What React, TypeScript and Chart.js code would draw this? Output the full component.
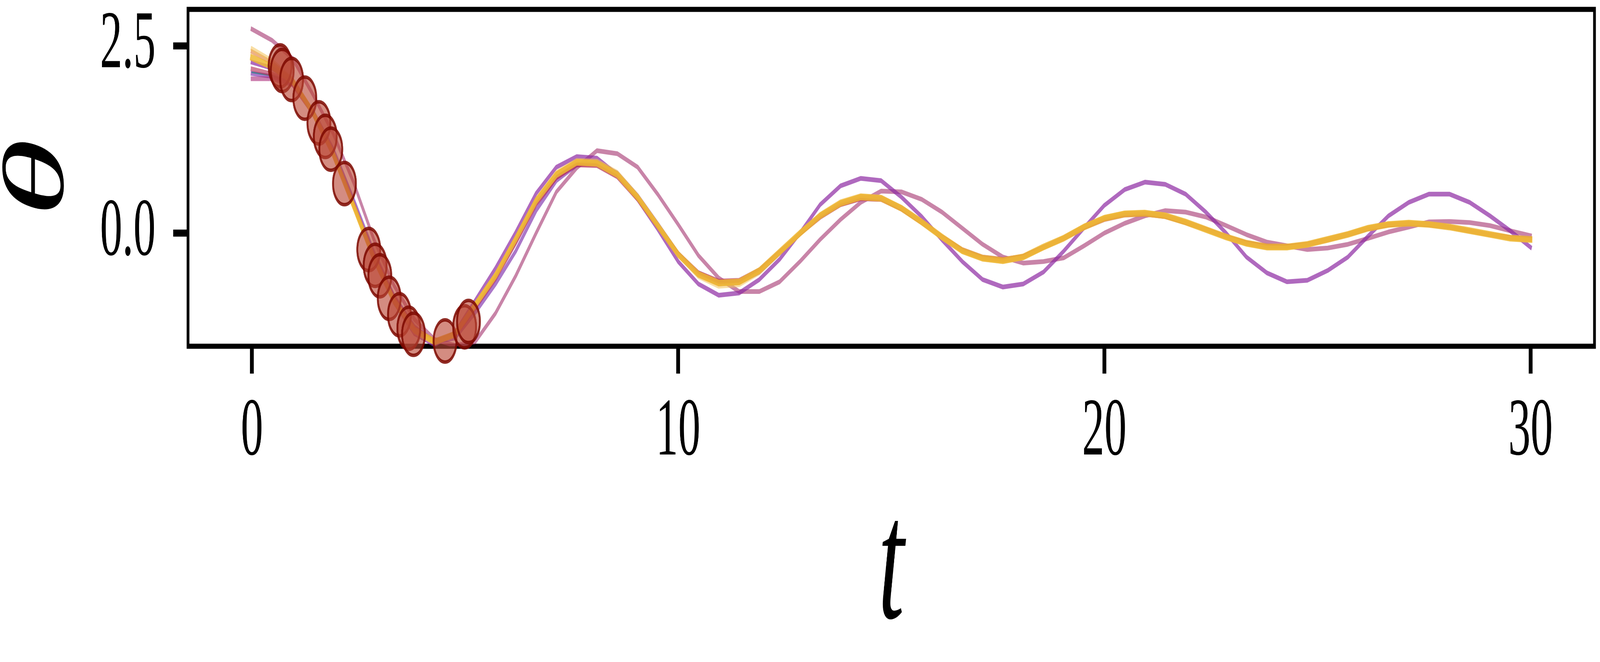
import { useEffect, useRef } from 'react';
import { Chart, registerables } from 'chart.js';

Chart.register(...registerables);

// time grid of the simulated trajectories (64 samples over 0..30)
const times = [
  0, 0.476, 0.952, 1.429, 1.905, 2.381, 2.857, 3.333, 3.81, 4.286, 4.762, 5.238, 5.714, 6.19, 6.667, 7.143,
  7.619, 8.095, 8.571, 9.048, 9.524, 10, 10.476, 10.952, 11.429, 11.905, 12.381, 12.857, 13.333, 13.81, 14.286, 14.762,
  15.238, 15.714, 16.19, 16.667, 17.143, 17.619, 18.095, 18.571, 19.048, 19.524, 20, 20.476, 20.952, 21.429, 21.905, 22.381,
  22.857, 23.333, 23.81, 24.286, 24.762, 25.238, 25.714, 26.19, 26.667, 27.143, 27.619, 28.095, 28.571, 29.048, 29.524, 30,
];

// ensemble members (theta)
const thetaYellow = [
  2.34, 2.22, 2.03, 1.61, 1.06, 0.37, -0.33, -0.9, -1.29, -1.45, -1.35, -0.96, -0.57, -0.08, 0.43, 0.78,
  0.945, 0.93, 0.78, 0.475, 0.098, -0.284, -0.551, -0.667, -0.651, -0.501, -0.251, -0.002, 0.231, 0.398, 0.481, 0.464,
  0.331, 0.148, -0.052, -0.235, -0.334, -0.368, -0.318, -0.185, -0.068, 0.081, 0.198, 0.255, 0.265, 0.231, 0.148, 0.048,
  -0.052, -0.135, -0.185, -0.185, -0.151, -0.085, -0.018, 0.065, 0.115, 0.132, 0.115, 0.081, 0.032, -0.018, -0.068, -0.085,
];
const thetaPale = [
  2.46, 2.3, 2.05, 1.62, 1.04, 0.35, -0.35, -0.93, -1.32, -1.47, -1.36, -0.95, -0.55, -0.06, 0.45, 0.81,
  0.97, 0.96, 0.81, 0.5, 0.11, -0.29, -0.58, -0.71, -0.69, -0.53, -0.27, 0, 0.25, 0.42, 0.5, 0.48,
  0.34, 0.15, -0.06, -0.25, -0.35, -0.38, -0.33, -0.2, -0.07, 0.09, 0.21, 0.27, 0.28, 0.24, 0.15, 0.04,
  -0.06, -0.15, -0.2, -0.2, -0.16, -0.09, -0.02, 0.07, 0.12, 0.14, 0.12, 0.08, 0.03, -0.02, -0.07, -0.09,
];
const thetaOrange = [
  2.42, 2.27, 2.04, 1.62, 1.05, 0.36, -0.34, -0.91, -1.3, -1.45, -1.34, -0.95, -0.56, -0.07, 0.44, 0.79,
  0.95, 0.94, 0.79, 0.48, 0.1, -0.29, -0.56, -0.68, -0.66, -0.51, -0.26, 0, 0.24, 0.4, 0.49, 0.47,
  0.34, 0.15, -0.05, -0.24, -0.34, -0.37, -0.32, -0.19, -0.06, 0.09, 0.2, 0.26, 0.27, 0.23, 0.15, 0.05,
  -0.05, -0.14, -0.19, -0.19, -0.15, -0.08, -0.01, 0.07, 0.12, 0.13, 0.12, 0.08, 0.03, -0.02, -0.07, -0.09,
];
const thetaRed = [
  2.19, 2.12, 2.0, 1.6, 1.07, 0.39, -0.3, -0.87, -1.27, -1.44, -1.36, -0.99, -0.6, -0.12, 0.39, 0.74,
  0.91, 0.9, 0.75, 0.45, 0.08, -0.28, -0.53, -0.64, -0.63, -0.49, -0.25, -0.01, 0.21, 0.38, 0.46, 0.45,
  0.32, 0.14, -0.05, -0.22, -0.32, -0.35, -0.31, -0.19, -0.07, 0.07, 0.18, 0.24, 0.25, 0.22, 0.14, 0.05,
  -0.05, -0.13, -0.17, -0.18, -0.15, -0.09, -0.02, 0.06, 0.11, 0.13, 0.11, 0.08, 0.03, -0.02, -0.06, -0.08,
];
const thetaMagenta = [
  2.06, 2.06, 1.98, 1.6, 1.08, 0.4, -0.29, -0.86, -1.27, -1.44, -1.37, -1.0, -0.61, -0.13, 0.38, 0.74,
  0.92, 0.91, 0.76, 0.46, 0.09, -0.27, -0.53, -0.65, -0.64, -0.5, -0.26, -0.01, 0.22, 0.38, 0.46, 0.45,
  0.32, 0.14, -0.05, -0.23, -0.33, -0.36, -0.31, -0.19, -0.07, 0.08, 0.19, 0.25, 0.26, 0.22, 0.14, 0.05,
  -0.05, -0.13, -0.18, -0.18, -0.15, -0.09, -0.02, 0.06, 0.11, 0.13, 0.11, 0.08, 0.03, -0.02, -0.06, -0.08,
];
const thetaTeal = [
  2.145, 2.1, 2.0, 1.61, 1.07, 0.38, -0.31, -0.88, -1.28, -1.45, -1.36, -0.98, -0.58, -0.1, 0.41, 0.76,
  0.93, 0.92, 0.77, 0.47, 0.09, -0.28, -0.54, -0.66, -0.65, -0.5, -0.25, 0, 0.23, 0.39, 0.47, 0.46,
  0.33, 0.15, -0.05, -0.23, -0.33, -0.37, -0.32, -0.19, -0.07, 0.08, 0.19, 0.25, 0.26, 0.23, 0.15, 0.05,
  -0.05, -0.13, -0.18, -0.18, -0.15, -0.09, -0.02, 0.06, 0.11, 0.13, 0.12, 0.08, 0.03, -0.02, -0.07, -0.08,
];
const thetaDarkPurple = [
  2.13, 2.09, 1.99, 1.63, 1.12, 0.45, -0.25, -0.84, -1.25, -1.45, -1.4, -1.06, -0.68, -0.24, 0.3, 0.7,
  0.91, 0.94, 0.8, 0.5, 0.12, -0.27, -0.55, -0.67, -0.66, -0.52, -0.27, -0.01, 0.23, 0.4, 0.48, 0.47,
  0.34, 0.15, -0.05, -0.23, -0.33, -0.36, -0.32, -0.19, -0.07, 0.08, 0.19, 0.25, 0.26, 0.23, 0.15, 0.05,
  -0.05, -0.13, -0.18, -0.18, -0.15, -0.09, -0.02, 0.06, 0.11, 0.13, 0.12, 0.08, 0.03, -0.02, -0.06, -0.08,
];
const thetaPurple = [
  2.28, 2.2, 2.02, 1.62, 1.08, 0.4, -0.32, -0.92, -1.34, -1.49, -1.33, -0.9, -0.47, 0.01, 0.53, 0.88,
  1.02, 1.0, 0.78, 0.45, 0.05, -0.38, -0.68, -0.83, -0.8, -0.62, -0.35, 0, 0.38, 0.63, 0.73, 0.7,
  0.48, 0.22, -0.09, -0.38, -0.62, -0.72, -0.68, -0.52, -0.24, 0.07, 0.37, 0.58, 0.68, 0.65, 0.52, 0.28,
  0, -0.32, -0.53, -0.65, -0.63, -0.5, -0.32, -0.04, 0.23, 0.41, 0.52, 0.52, 0.41, 0.23, 0.03, -0.19,
];
const thetaPink = [
  2.72, 2.57, 2.33, 1.85, 1.33, 0.68, -0.08, -0.7, -1.15, -1.42, -1.5, -1.45, -1.07, -0.57, 0, 0.55,
  0.87, 1.1, 1.06, 0.88, 0.515, 0.115, -0.3, -0.6, -0.78, -0.78, -0.65, -0.38, -0.085, 0.18, 0.41, 0.56,
  0.55, 0.45, 0.28, 0.065, -0.15, -0.32, -0.4, -0.38, -0.33, -0.17, 0, 0.13, 0.23, 0.3, 0.28, 0.215,
  0.1, -0.02, -0.12, -0.17, -0.22, -0.2, -0.15, -0.07, 0.015, 0.08, 0.15, 0.155, 0.14, 0.1, 0.03, -0.035,
];

// observations
const obsT = [0.66, 0.71, 0.93, 1.24, 1.57, 1.72, 1.85, 2.17, 2.74, 2.89, 3.0, 3.22, 3.46, 3.68, 3.79, 4.53, 4.99, 5.08];
const obsTheta = [2.23, 2.17, 2.05, 1.8, 1.47, 1.29, 1.12, 0.66, -0.22, -0.43, -0.57, -0.87, -1.09, -1.27, -1.35, -1.44, -1.25, -1.18];

const xTicks = [0, 10, 20, 30];
const yTicks = [0, 2.5];

const W = 7556;
const H = 1694;
const SERIF = "'Liberation Serif', 'DejaVu Serif', serif";

const toPoints = (ys: number[]) => ys.map((y, i) => ({ x: times[i], y }));

const line = (ys: number[], color: string, width = 12) => ({
  type: 'line' as const,
  data: toPoints(ys),
  borderColor: color,
  borderWidth: width,
  pointRadius: 0,
  tension: 0,
  borderCapStyle: 'square' as const,
  borderJoinStyle: 'round' as const,
  fill: false,
});

// black box around the plot, drawn under the markers
const framePlugin = {
  id: 'frame',
  beforeDatasetsDraw(chart: Chart) {
    const { ctx, chartArea: a } = chart;
    ctx.save();
    ctx.strokeStyle = '#000';
    ctx.lineWidth = 13;
    ctx.strokeRect(a.left, a.top, a.right - a.left, a.bottom - a.top);
    ctx.restore();
  },
};

export default function App() {
  const canvasRef = useRef<HTMLCanvasElement>(null);
  const chartRef = useRef<Chart | null>(null);

  useEffect(() => {
    if (!canvasRef.current) return;
    if (chartRef.current) chartRef.current.destroy();

    chartRef.current = new Chart(canvasRef.current, {
      type: 'line',
      data: {
        datasets: [
          {
            type: 'scatter',
            data: obsT.map((t, i) => ({ x: t, y: obsTheta[i] })),
            backgroundColor: 'rgba(185, 70, 52, 0.62)',
            borderColor: 'rgba(125, 8, 0, 0.85)',
            borderWidth: 9,
            pointRadius: 54,
            clip: false,
          },
          line(thetaYellow, 'rgba(238, 185, 52, 0.85)', 17),
          line(thetaPale, 'rgba(242, 195, 90, 0.55)'),
          line(thetaOrange, 'rgba(225, 125, 55, 0.6)'),
          line(thetaRed, 'rgba(185, 55, 95, 0.65)'),
          line(thetaMagenta, 'rgba(170, 40, 120, 0.6)'),
          line(thetaTeal, 'rgba(40, 130, 130, 0.7)', 4),
          line(thetaDarkPurple, 'rgba(115, 30, 165, 0.6)'),
          line(thetaPurple, 'rgba(141, 41, 162, 0.7)'),
          line(thetaPink, 'rgba(163, 50, 110, 0.6)'),
        ] as any,
      },
      options: {
        animation: false,
        responsive: false,
        devicePixelRatio: 1,
        events: [],
        layout: { autoPadding: false, padding: { left: 0, right: 26, top: 24, bottom: 0 } },
        plugins: {
          legend: { display: false },
          tooltip: { enabled: false },
        },
        scales: {
          x: {
            type: 'linear',
            min: -1.5,
            max: 31.5,
            afterBuildTicks: (scale: any) => {
              scale.ticks = xTicks.map((v) => ({ value: v }));
            },
            afterFit: (scale: any) => {
              scale.height = 808;
              scale.paddingLeft = 0;
              scale.paddingRight = 0;
            },
            border: { display: false },
            grid: {
              drawOnChartArea: false,
              drawTicks: true,
              tickLength: 70,
              tickWidth: 18,
              tickColor: '#000',
            },
            ticks: {
              color: '#000',
              padding: 26,
              maxRotation: 0,
              font: { family: SERIF, size: 210, lineHeight: 1.2 },
              callback: (v: any) => String(v),
            },
            title: {
              display: true,
              text: 't',
              color: '#000',
              padding: { top: 0, bottom: 9 },
              font: { family: SERIF, size: 440, style: 'italic', lineHeight: 1 },
            },
          },
          y: {
            type: 'linear',
            min: -1.51,
            max: 2.985,
            afterBuildTicks: (scale: any) => {
              scale.ticks = yTicks.map((v) => ({ value: v }));
            },
            afterFit: (scale: any) => {
              scale.width = 888;
              scale.paddingTop = 0;
              scale.paddingBottom = 0;
            },
            border: { display: false },
            grid: {
              drawOnChartArea: false,
              drawTicks: true,
              tickLength: 70,
              tickWidth: 18,
              tickColor: '#000',
            },
            ticks: {
              color: '#000',
              padding: 83,
              font: { family: SERIF, size: 210, lineHeight: 0.1 },
              callback: (v: any) => Number(v).toFixed(1),
            },
            title: {
              display: true,
              text: 'θ',
              color: '#000',
              padding: { top: 36, bottom: 0 },
              font: { family: SERIF, size: 410, style: 'italic', lineHeight: 0.75 },
            },
          },
        },
      } as any,
      plugins: [framePlugin],
    });

    return () => {
      if (chartRef.current) {
        chartRef.current.destroy();
        chartRef.current = null;
      }
    };
  }, []);

  return (
    <canvas
      ref={canvasRef}
      width={W}
      height={H}
      style={{
        position: 'fixed',
        left: 0,
        top: 0,
        width: '100vw',
        height: '100vh',
        background: '#fff',
      }}
    />
  );
}
